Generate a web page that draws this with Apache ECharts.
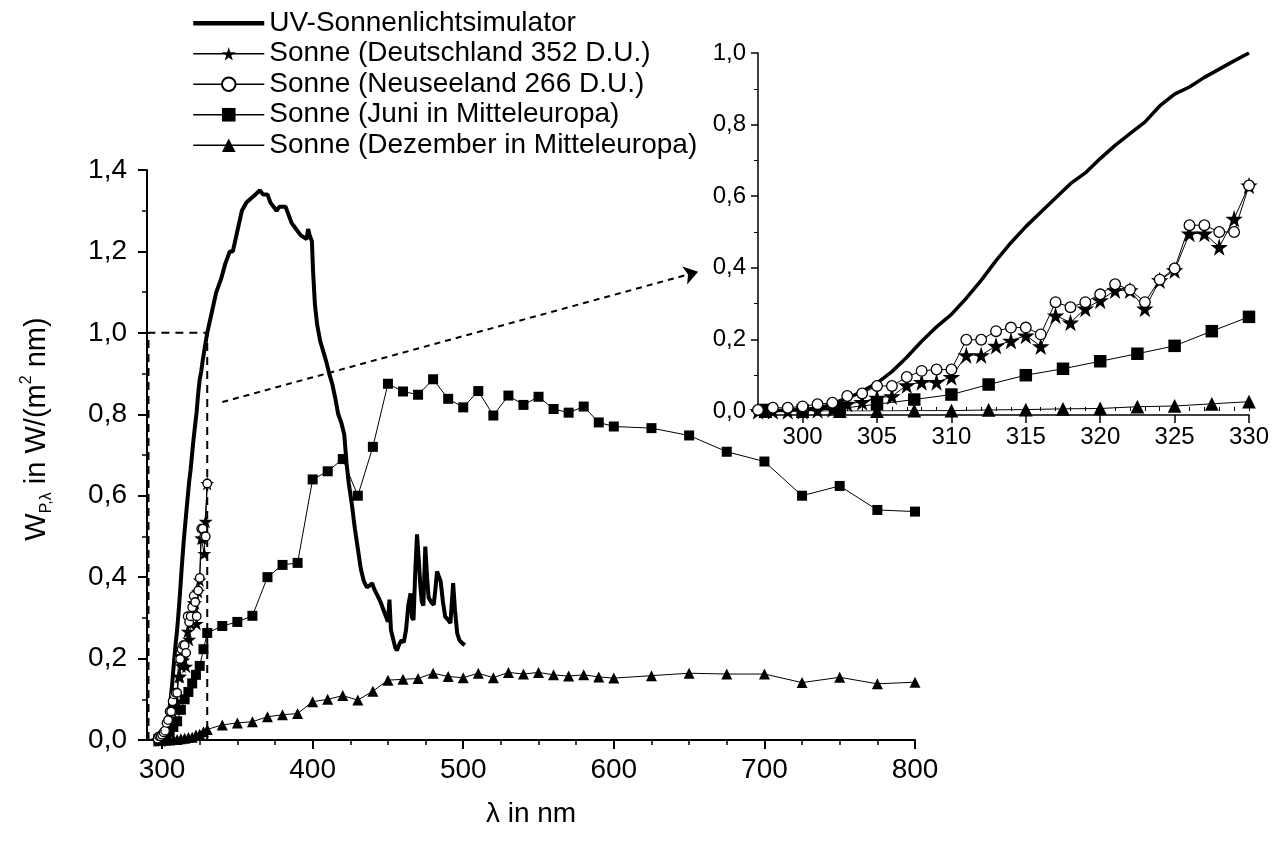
<!DOCTYPE html>
<html>
<head>
<meta charset="utf-8">
<script src="https://cdn.jsdelivr.net/npm/echarts@6/dist/echarts.min.js"></script>
<style>
  html, body { margin: 0; padding: 0; background: #fff; }
  #chart { width: 1279px; height: 841px; }
</style>
</head>
<body>
<div id="chart"></div>
<script>
// UV-Sonnenlichtsimulator (durchgezogene dicke Linie)
const uvNm = [297, 298, 299, 300, 301, 302, 303, 304, 305, 306, 307, 308, 309, 310, 311, 312, 313, 314, 315,
  316, 317, 318, 319, 320, 321, 322, 323, 324, 325, 326, 327, 328, 329, 330,
  333, 336, 339, 342, 345, 347, 350, 353, 356, 359, 362, 365, 367, 370, 372, 374, 376, 378, 380, 382,
  384, 386, 388, 390, 392, 394, 396, 397, 398, 399.5, 400.3, 401.5, 403, 405, 407, 409, 411, 413, 415,
  417, 419, 421, 422.5, 424, 426, 428, 430, 432, 434, 436, 438, 439.5, 441, 443, 445, 447, 449, 450,
  451, 452, 453, 455, 456, 457.5, 459, 460.5, 462, 463.5, 465, 466, 467, 468, 469.3, 470.5, 471.5,
  472.5, 473.5, 474.8, 476, 477, 478.5, 480.4, 481.5, 482.6, 484, 485, 486.5, 488, 490, 491.5, 493.3,
  494.5, 496, 497.5, 499.3, 501];
const uvVal = [0, 0.001, 0.002, 0.004, 0.008, 0.018, 0.035, 0.055, 0.078, 0.11, 0.15, 0.195, 0.235, 0.27,
  0.315, 0.365, 0.42, 0.47, 0.515, 0.555, 0.595, 0.635, 0.665, 0.705, 0.742, 0.775, 0.807, 0.852, 0.885,
  0.905, 0.932, 0.955, 0.978, 1.0,
  1.05, 1.1, 1.13, 1.17, 1.2, 1.2, 1.25, 1.3, 1.32, 1.33, 1.34, 1.35, 1.34, 1.34, 1.32, 1.31, 1.3, 1.31,
  1.31, 1.31, 1.29, 1.27, 1.26, 1.25, 1.24, 1.235, 1.23, 1.255, 1.24, 1.225, 1.15, 1.07, 1.02, 0.98,
  0.955, 0.93, 0.9, 0.875, 0.84, 0.8, 0.78, 0.75, 0.68, 0.63, 0.58, 0.52, 0.47, 0.42, 0.39, 0.375, 0.38,
  0.385, 0.37, 0.355, 0.34, 0.32, 0.3, 0.29, 0.345, 0.27, 0.255, 0.225, 0.22, 0.235, 0.245, 0.24, 0.27,
  0.33, 0.36, 0.3, 0.295, 0.4, 0.505, 0.44, 0.38, 0.34, 0.33, 0.475, 0.4, 0.35, 0.34, 0.332, 0.37, 0.414,
  0.4, 0.39, 0.34, 0.303, 0.295, 0.287, 0.385, 0.32, 0.262, 0.245, 0.238, 0.233];

// Sonne Deutschland / Neuseeland, 1 nm Schritte
const sunNm = [297, 298, 299, 300, 301, 302, 303, 304, 305, 306, 307, 308, 309, 310, 311, 312, 313, 314,
  315, 316, 317, 318, 319, 320, 321, 322, 323, 324, 325, 326, 327, 328, 329, 330];
const deVal = [0, 0, 0, 0, 0.003, 0.005, 0.02, 0.025, 0.037, 0.041, 0.072, 0.081, 0.081, 0.095, 0.156,
  0.156, 0.182, 0.196, 0.211, 0.181, 0.267, 0.247, 0.286, 0.309, 0.337, 0.337, 0.286, 0.365, 0.393,
  0.496, 0.496, 0.458, 0.537, 0.63];
const nzVal = [0.003, 0.009, 0.009, 0.013, 0.019, 0.023, 0.042, 0.049, 0.07, 0.07, 0.095, 0.112, 0.116,
  0.116, 0.199, 0.199, 0.223, 0.233, 0.233, 0.214, 0.304, 0.29, 0.304, 0.326, 0.354, 0.339, 0.304,
  0.367, 0.398, 0.519, 0.519, 0.5, 0.5, 0.63];

// Sonne Juni / Dezember in Mitteleuropa
const euNm = [297.5, 300, 302.5, 305, 307.5, 310, 312.5, 315, 317.5, 320, 322.5, 325, 327.5, 330,
  340, 350, 360, 370, 380, 390, 400, 410, 420, 430, 440, 450, 460, 470, 480, 490, 500, 510, 520, 530,
  540, 550, 560, 570, 580, 590, 600, 625, 650, 675, 700, 725, 750, 775, 800];
const junVal = [0.003, 0.002, 0.007, 0.019, 0.032, 0.046, 0.074, 0.1, 0.118, 0.139, 0.16, 0.182, 0.223,
  0.263, 0.28, 0.29, 0.305, 0.4, 0.43, 0.435, 0.64, 0.66, 0.69, 0.6, 0.72, 0.875, 0.856, 0.848, 0.886,
  0.838, 0.817, 0.857, 0.797, 0.846, 0.823, 0.843, 0.813, 0.804, 0.819, 0.78, 0.77, 0.766, 0.748,
  0.708, 0.684, 0.6, 0.624, 0.565, 0.561];
const dezVal = [0, 0, 0, 0, 0.001, 0.001, 0.003, 0.004, 0.006, 0.007, 0.012, 0.014, 0.02, 0.026,
  0.037, 0.042, 0.045, 0.057, 0.062, 0.065, 0.094, 0.1, 0.109, 0.098, 0.12, 0.147, 0.149, 0.151, 0.164,
  0.156, 0.153, 0.164, 0.153, 0.166, 0.162, 0.166, 0.16, 0.157, 0.16, 0.155, 0.152, 0.158, 0.164,
  0.162, 0.162, 0.141, 0.154, 0.138, 0.142];

// Ausschnitt-Rahmen und Pfeil zum Inset
const boxNm = [291, 291, 330, 330];
const boxVal = [0, 1, 1, 0];
const arrowNm = [340, 656];
const arrowVal = [0.83, 1.15];

// Achsen
const mainTicks = [300, 400, 500, 600, 700, 800];
const mainMinor = [300, 325, 350, 375, 400, 425, 450, 475, 500, 525, 550, 575, 600, 625, 650, 675, 700, 725, 750, 775, 800];
const insetTicks = [300, 305, 310, 315, 320, 325, 330];

const names = ['UV-Sonnenlichtsimulator', 'Sonne (Deutschland 352 D.U.)', 'Sonne (Neuseeland 266 D.U.)',
  'Sonne (Juni in Mitteleuropa)', 'Sonne (Dezember in Mitteleuropa)'];

const FONT = 'Liberation Sans';
const STAR = 'path://M50,0 L61,35 L98,35 L68,57 L79,91 L50,70 L21,91 L32,57 L2,35 L39,35 Z';
const fmt = v => v.toFixed(1).replace('.', ',');
const pairs = (xs, ys, maxX) => xs.map((x, i) => [x, ys[i]]).filter(p => maxX == null || p[0] <= maxX);

function seriesSet(xi, yi, big) {
  const k = big ? 1.25 : 1;
  return [
    {
      name: names[0], type: 'line', xAxisIndex: xi, yAxisIndex: yi,
      data: pairs(uvNm, uvVal, big ? 330 : null), symbol: 'none',
      lineStyle: { color: '#000', width: big ? 3.5 : 4 }, itemStyle: { color: '#000' }, z: 3
    },
    {
      name: names[1], type: 'line', xAxisIndex: xi, yAxisIndex: yi,
      data: pairs(sunNm, deVal), symbol: STAR, symbolSize: 14 * k,
      lineStyle: { color: '#000', width: 1 }, itemStyle: { color: '#000' }, z: 4
    },
    {
      name: names[2], type: 'line', xAxisIndex: xi, yAxisIndex: yi,
      data: pairs(sunNm, nzVal), symbol: 'circle', symbolSize: 8.5 * k,
      lineStyle: { color: '#000', width: 1 },
      itemStyle: { color: '#fff', borderColor: '#000', borderWidth: 1.3 }, z: 5
    },
    {
      name: names[3], type: 'line', xAxisIndex: xi, yAxisIndex: yi,
      data: pairs(euNm, junVal, big ? 330 : null), symbol: 'rect', symbolSize: 10 * k,
      lineStyle: { color: '#000', width: 1 }, itemStyle: { color: '#000' }, z: 4
    },
    {
      name: names[4], type: 'line', xAxisIndex: xi, yAxisIndex: yi,
      data: pairs(euNm, dezVal, big ? 330 : null), symbol: 'triangle', symbolSize: 11 * k,
      lineStyle: { color: '#000', width: 1 }, itemStyle: { color: '#000' }, z: 4
    }
  ];
}

const axisBase = {
  axisLine: { show: true, onZero: false, lineStyle: { color: '#000', width: 2 } },
  splitLine: { show: false }
};

const chart = echarts.init(document.getElementById('chart'), null, { renderer: 'canvas' });
chart.setOption({
  backgroundColor: '#fff',
  animation: false,
  textStyle: { fontFamily: FONT, color: '#000' },
  legend: {
    data: [{ name: names[0], itemStyle: { opacity: 0 }, lineStyle: { width: 4.5 } }]
      .concat(names.slice(1).map(n => ({ name: n, lineStyle: { width: 1.5 } }))),
    orient: 'vertical', left: 186, top: 3,
    itemWidth: 71, itemHeight: 17, itemGap: 0,
    textStyle: { fontFamily: FONT, fontSize: 28, lineHeight: 30.5, color: '#000' }
  },
  grid: [
    { left: 147, top: 170, width: 768, height: 570 },
    { left: 758, top: 53, width: 491, height: 358 }
  ],
  xAxis: [
    {
      ...axisBase, gridIndex: 0, type: 'value', min: 290, max: 800,
      name: 'λ in nm', nameLocation: 'middle', nameGap: 60,
      nameTextStyle: { fontFamily: FONT, fontSize: 28, color: '#000' },
      axisTick: { length: 9, lineStyle: { width: 2, color: '#000' }, customValues: mainTicks },
      axisLabel: { fontFamily: FONT, fontSize: 28, color: '#000', margin: 16, customValues: mainTicks }
    },
    {
      gridIndex: 0, type: 'value', min: 290, max: 800, position: 'bottom',
      axisLine: { show: false }, splitLine: { show: false },
      axisTick: { length: 5, lineStyle: { width: 1.5, color: '#000' }, customValues: mainMinor },
      axisLabel: { show: false, customValues: mainMinor }
    },
    {
      gridIndex: 1, type: 'value', min: 297, max: 330, offset: 4,
      axisLine: { show: true, onZero: false, lineStyle: { color: '#000', width: 1.5 } },
      splitLine: { show: false },
      axisTick: { length: 8, lineStyle: { width: 1.5, color: '#000' }, customValues: insetTicks },
      axisLabel: { fontFamily: FONT, fontSize: 24, color: '#000', margin: 10, customValues: insetTicks }
    },
    {
      gridIndex: 1, type: 'value', min: 297, max: 330, interval: 1, offset: 4,
      axisLine: { show: false }, splitLine: { show: false },
      axisTick: { length: 4, lineStyle: { width: 1, color: '#000' } },
      axisLabel: { show: false }
    }
  ],
  yAxis: [
    {
      ...axisBase, gridIndex: 0, type: 'value', min: 0, max: 1.4, interval: 0.2,
      name: '{a|W}{sub|P,λ}{a| in W/(m}{sup|2}{a| nm)}', nameLocation: 'middle', nameRotate: 90, nameGap: 92,
      nameTextStyle: {
        padding: [0, 0, 0, 52],
        rich: {
          a: { fontFamily: FONT, fontSize: 29, lineHeight: 36, color: '#000' },
          sub: { fontFamily: FONT, fontSize: 16, lineHeight: 36, verticalAlign: 'bottom', color: '#000' },
          sup: { fontFamily: FONT, fontSize: 16, lineHeight: 36, verticalAlign: 'top', color: '#000' }
        }
      },
      axisTick: { length: 9, lineStyle: { width: 2, color: '#000' } },
      minorTick: { show: true, splitNumber: 2, length: 5, lineStyle: { width: 1.5, color: '#000' } },
      axisLabel: { fontFamily: FONT, fontSize: 28, color: '#000', margin: 20, formatter: fmt }
    },
    {
      gridIndex: 1, type: 'value', min: 0, max: 1.0, interval: 0.2,
      axisLine: { show: true, onZero: false, lineStyle: { color: '#000', width: 1.5 } },
      splitLine: { show: false },
      axisTick: { length: 7, lineStyle: { width: 1.5, color: '#000' } },
      minorTick: { show: true, splitNumber: 2, length: 4, lineStyle: { width: 1, color: '#000' } },
      axisLabel: { fontFamily: FONT, fontSize: 24, color: '#000', margin: 12, formatter: fmt }
    }
  ],
  series: [
    ...seriesSet(0, 0, false),
    ...seriesSet(2, 1, true),
    {
      name: 'box', type: 'line', xAxisIndex: 0, yAxisIndex: 0,
      data: pairs(boxNm, boxVal), symbol: 'none', silent: true,
      lineStyle: { color: '#000', width: 2, type: [8, 6] }, z: 2,
      markLine: {
        silent: true, symbol: ['none', 'arrow'], symbolSize: 14, label: { show: false },
        lineStyle: { color: '#000', width: 2, type: [6, 5] },
        data: [[{ coord: [arrowNm[0], arrowVal[0]] }, { coord: [arrowNm[1], arrowVal[1]] }]]
      }
    }
  ]
});
</script>
</body>
</html>
